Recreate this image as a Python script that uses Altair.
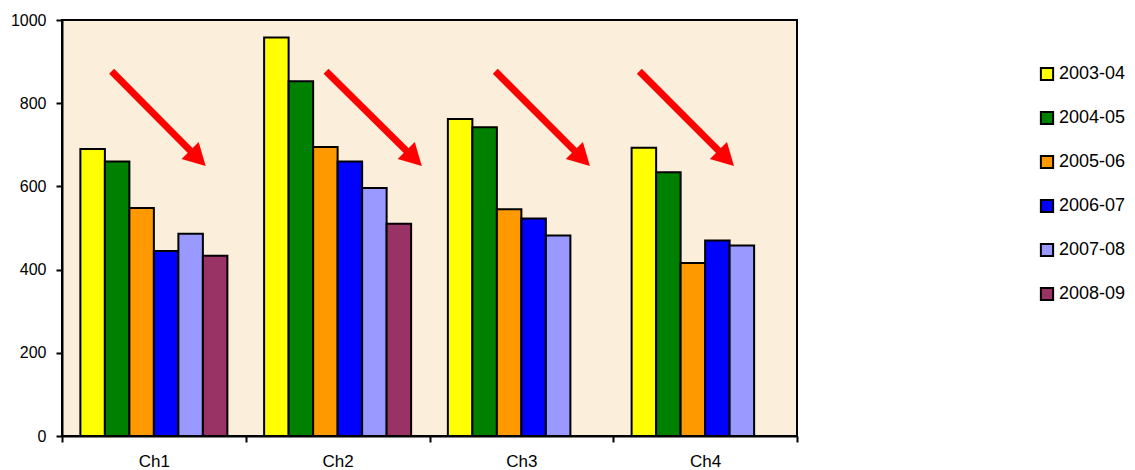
import altair as alt
import pandas as pd

# ---- data ----
channels = ["Ch1", "Ch2", "Ch3", "Ch4"]
seasons = ["2003-04", "2004-05", "2005-06", "2006-07", "2007-08", "2008-09"]
colors = ["#FFFF00", "#008000", "#FF9900", "#0000FF", "#9999FF", "#993366"]

ch1_values = [690, 660, 548, 445, 486, 433]
ch2_values = [958, 853, 695, 660, 596, 510]
ch3_values = [762, 742, 545, 523, 482]
ch4_values = [693, 634, 416, 470, 458]

y_ticks = [0, 200, 400, 600, 800, 1000]

# arrows (x in group units: 0..4 across the plot, y in data units)
arrow_x_start = [0.270, 1.437, 2.358, 3.142]
arrow_x_tip = [0.782, 1.958, 2.873, 3.657]
arrow_y_start = [877, 877, 877, 877]
arrow_y_tip = [649, 649, 649, 649]

rows = []
for ch, vals in zip(channels, [ch1_values, ch2_values, ch3_values, ch4_values]):
    for s, v in zip(seasons, vals):
        rows.append({"Ch": ch, "Season": s, "Value": v})
df_bars = pd.DataFrame(rows)

df_arrows = pd.DataFrame({
    "x0": arrow_x_start,
    "x1": [t - 0.05 for t in arrow_x_tip],
    "y0": arrow_y_start,
    "y1": [t + 22 for t in arrow_y_tip],
    "xt": arrow_x_tip,
    "yt": arrow_y_tip,
})

yscale = alt.Scale(domain=[0, 1000], nice=False)
yaxis = alt.Axis(title=None, values=y_ticks, grid=False, format="d",
                 labelFontSize=16, labelPadding=10, tickSize=6)
xq = alt.Scale(domain=[0, 4], nice=False, zero=False)

bars = alt.Chart(df_bars).mark_bar(stroke="black", strokeWidth=2).encode(
    x=alt.X("Ch:N", sort=channels,
            scale=alt.Scale(paddingInner=0, paddingOuter=0),
            axis=alt.Axis(title=None, labelAngle=0, tickBand="extent",
                          labelFontSize=17, labelPadding=11, tickSize=6)),
    xOffset=alt.XOffset("Season:N", sort=seasons,
                        scale=alt.Scale(paddingInner=0, paddingOuter=0.75)),
    y=alt.Y("Value:Q", scale=yscale, axis=yaxis),
    color=alt.Color("Season:N", sort=seasons,
                    scale=alt.Scale(domain=seasons, range=colors),
                    legend=alt.Legend(title=None, orient="none",
                                      legendX=976, legendY=45,
                                      symbolType="square", symbolSize=150,
                                      symbolStrokeColor="black",
                                      symbolStrokeWidth=2,
                                      symbolOpacity=1,
                                      labelFontSize=18, labelOffset=3,
                                      rowPadding=22, padding=0)),
)

shafts = alt.Chart(df_arrows).mark_rule(color="#FF0000", strokeWidth=7,
                                        strokeCap="butt").encode(
    x=alt.X("x0:Q", scale=xq, axis=None),
    x2="x1:Q",
    y=alt.Y("y0:Q", scale=yscale, axis=yaxis),
    y2="y1:Q",
)

heads = alt.Chart(df_arrows).mark_point(
    shape="M0,0 L0.55,1 L-0.55,1 Z", filled=True, fill="#FF0000",
    opacity=1, size=1936, angle=135, strokeWidth=0,
).encode(
    x=alt.X("xt:Q", scale=xq, axis=None),
    y=alt.Y("yt:Q", scale=yscale, axis=yaxis),
)

chart = alt.layer(bars, shafts, heads).resolve_scale(
    x="independent"
).properties(
    width=735, height=416,
    autosize=alt.AutoSizeParams(type="none"),
    padding={"left": 54, "top": 12, "right": 330, "bottom": 34},
).configure(
    font="Liberation Sans",
).configure_view(
    fill="#FBEEDB", stroke="black", strokeWidth=2,
).configure_axis(
    domainColor="black", domainWidth=2, tickColor="black", tickWidth=2,
    labelColor="black", labelFont="Liberation Sans",
).configure_legend(
    labelColor="black", labelFont="Liberation Sans",
)

chart.save("out.html", embed_options={"renderer": "svg", "actions": False})
